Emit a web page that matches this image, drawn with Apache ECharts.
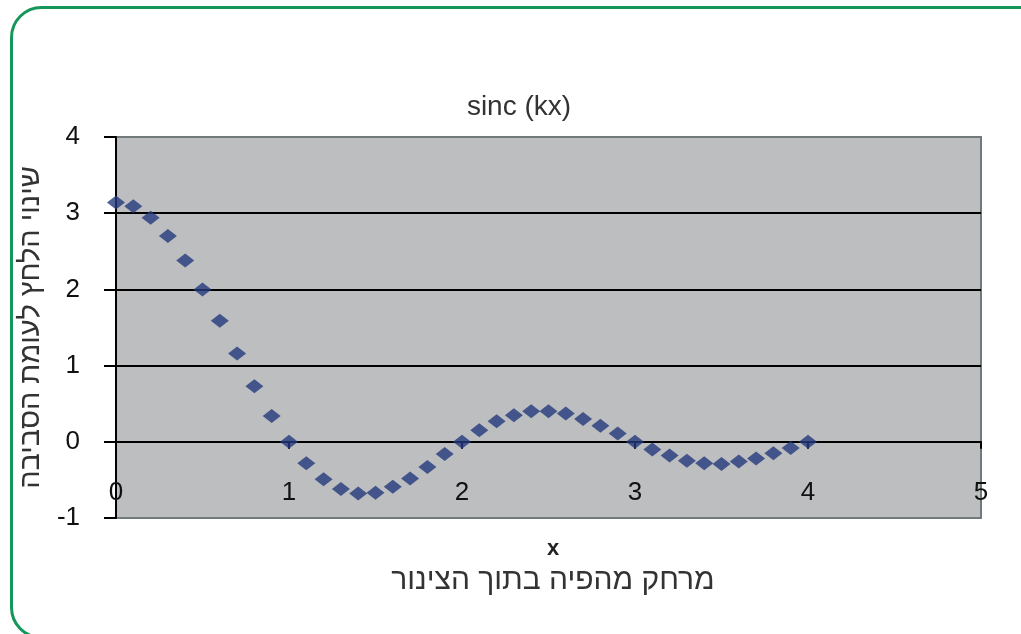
<!DOCTYPE html>
<html>
<head>
<meta charset="utf-8">
<script src="https://cdn.jsdelivr.net/npm/echarts@6/dist/echarts.min.js"></script>
<style>html,body{margin:0;padding:0;background:#fff}#c{width:1021px;height:634px}</style>
</head>
<body>
<div id="c"></div>
<script>
const xValues = [0,0.1,0.2,0.3,0.4,0.5,0.6,0.7,0.8,0.9,1.0,1.1,1.2,1.3,1.4,1.5,1.6,1.7,1.8,1.9,2.0,2.1,2.2,2.3,2.4,2.5,2.6,2.7,2.8,2.9,3.0,3.1,3.2,3.3,3.4,3.5,3.6,3.7,3.8,3.9,4.0];
const yValues = [3.14,3.09,2.94,2.70,2.38,2.00,1.59,1.16,0.73,0.34,0.00,-0.28,-0.49,-0.62,-0.68,-0.67,-0.59,-0.48,-0.33,-0.16,0.00,0.15,0.27,0.35,0.40,0.40,0.37,0.30,0.21,0.11,0.00,-0.10,-0.18,-0.25,-0.28,-0.29,-0.26,-0.22,-0.15,-0.08,0.00];
const chartTitle = 'sinc (kx)';
const xName = 'x';
const xSubName = 'מרחק מהפיה בתוך הצינור';
const yName = 'שינוי הלחץ לעומת הסביבה';

const points = xValues.map((x, i) => [x, yValues[i]]);
const font = '"Liberation Sans", Arial, sans-serif';

const chart = echarts.init(document.getElementById('c'));
chart.setOption({
  animation: false,
  backgroundColor: '#fff',
  title: [
    {text: chartTitle, left: 514, textAlign: 'center', top: 88, textStyle: {fontFamily: font, fontSize: 28, fontWeight: 'normal', color: '#333'}},
    {text: xName, left: 548, textAlign: 'center', top: 533, textStyle: {fontFamily: font, fontSize: 22, fontWeight: 'bold', color: '#222'}},
    {text: xSubName, left: 548, textAlign: 'center', top: 561, textStyle: {fontFamily: font, fontSize: 30, fontWeight: 'normal', color: '#333'}}
  ],
  graphic: [{
    type: 'rect', left: 9, top: 5, silent: true, z: 100,
    shape: {width: 1040, height: 630, r: 30},
    style: {fill: 'none', stroke: '#16975a', lineWidth: 3}
  }],
  grid: {
    left: 116, right: 40, top: 137, bottom: 116,
    show: true, backgroundColor: '#bdbec0', borderColor: '#717a7a', borderWidth: 2
  },
  xAxis: {
    type: 'value', min: 0, max: 5, interval: 1,
    axisLine: {onZero: true, lineStyle: {color: '#000', width: 2}},
    axisTick: {show: true, length: 7, inside: false, lineStyle: {color: '#000', width: 2}},
    axisLabel: {margin: -38, fontFamily: font, fontSize: 26, color: '#111'},
    splitLine: {show: false}
  },
  yAxis: {
    type: 'value', min: -1, max: 4, interval: 1,
    name: yName, nameLocation: 'middle', nameRotate: 90, nameGap: 63,
    nameTextStyle: {fontFamily: font, fontSize: 29, color: '#333'},
    axisLine: {show: true, onZero: false, lineStyle: {color: '#000', width: 2}},
    axisTick: {show: true, length: 12, lineStyle: {color: '#000', width: 2}},
    axisLabel: {margin: 36, fontFamily: font, fontSize: 26, color: '#111'},
    splitLine: {show: true, showMinLine: false, showMaxLine: false, lineStyle: {color: '#000', width: 2}}
  },
  series: [{
    type: 'scatter', data: points,
    symbol: 'diamond', symbolSize: [18, 14],
    itemStyle: {color: '#233a7c'}
  }]
});
</script>
</body>
</html>
